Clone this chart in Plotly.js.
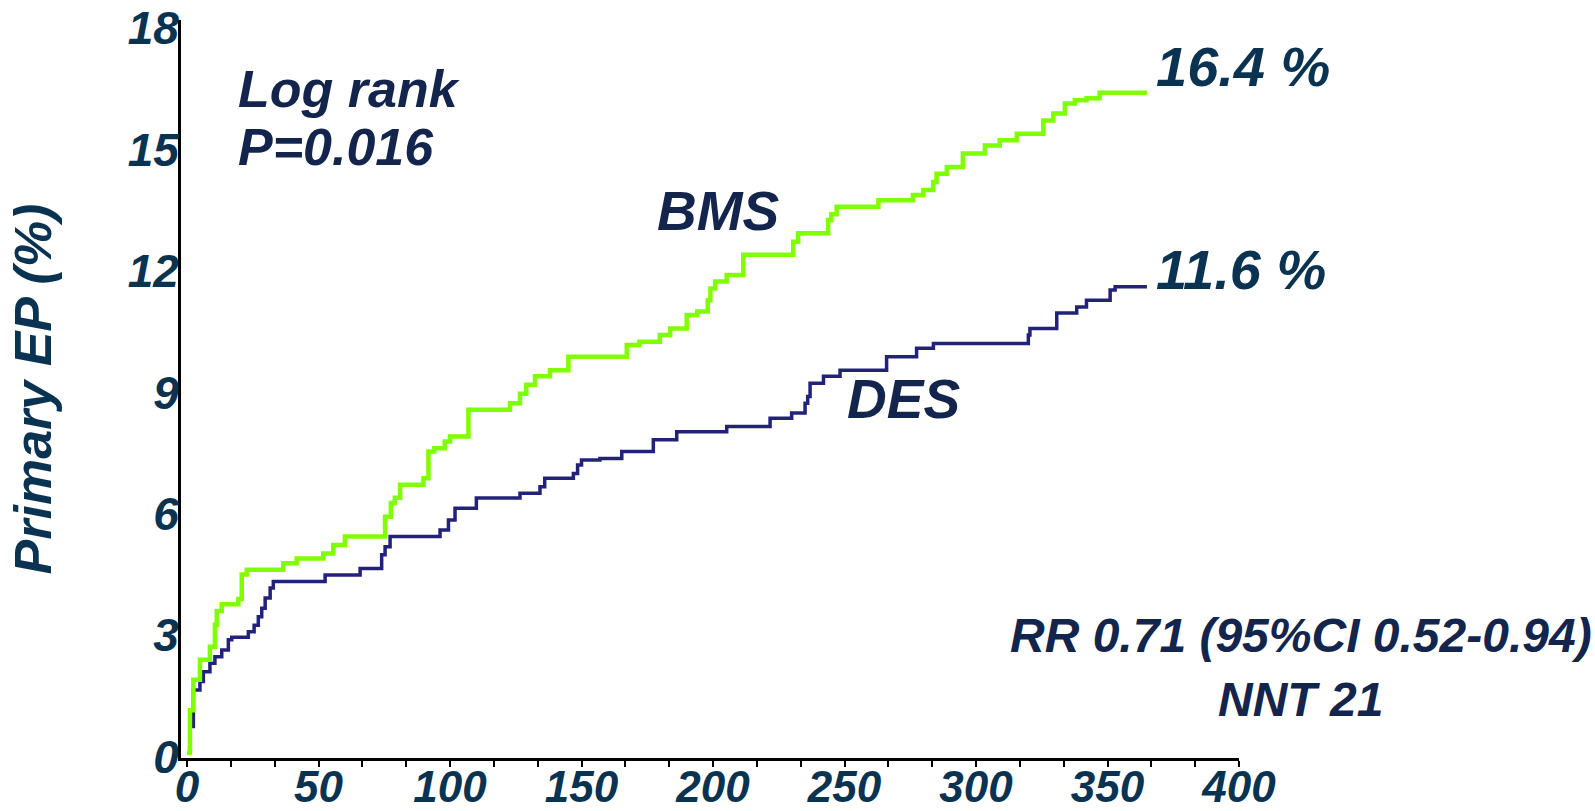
<!DOCTYPE html>
<html>
<head>
<meta charset="utf-8">
<script src="https://cdn.plot.ly/plotly-3.0.1.min.js"></script>
<style>
html,body{margin:0;padding:0;background:#fff;}
#chart{width:1595px;height:811px;}
</style>
</head>
<body>
<div id="chart"></div>
<script>
// Days of follow-up and cumulative primary end point (%) - BMS arm
const bmsDays = [0, 1.1, 2.4, 4.9, 8.7, 10.6, 11.3, 13.2, 19.5, 20.8, 22.7, 36.6, 41.7, 51.8, 55.6, 60,
  75.3, 77.5, 79, 81, 89.9, 91.8, 94, 98, 100, 107, 122.8, 126.6, 129, 132.3, 138, 145,
  167.2, 172, 179.8, 183.7, 190, 194, 198, 199, 200.8, 205.2, 211.5, 230.5, 232.4, 243.8, 245, 247,
  262.9, 276, 280, 283.7, 285, 288.9, 295, 303.4, 309, 315.5, 325.6, 329.4, 333.8, 337.6, 342, 347, 365];
const bmsRate = [0.1, 1.15, 1.9, 2.4, 2.72, 3.26, 3.6, 3.77, 3.9, 4.5, 4.62, 4.78, 4.9, 5.02, 5.23, 5.44,
  5.93, 6.27, 6.4, 6.72, 6.88, 7.54, 7.62, 7.79, 7.91, 8.57, 8.73, 8.97, 9.19, 9.4, 9.55, 9.88,
  10.17, 10.25, 10.42, 10.58, 10.91, 11.0, 11.28, 11.57, 11.74, 11.9, 12.4, 12.72, 12.93, 13.26, 13.4, 13.59,
  13.75, 13.88, 14.0, 14.2, 14.4, 14.57, 14.9, 15.1, 15.23, 15.39, 15.72, 15.89, 16.14, 16.22, 16.27, 16.4, 16.4];

// DES arm
const desDays = [1.8, 2.4, 4.9, 6.2, 8.7, 10.6, 13.2, 15.7, 17, 23.3, 25.5, 27.1, 28.4, 29.7, 31.6, 32.8,
  52.5, 65.8, 74, 75.3, 77.2, 96.2, 99.4, 101.9, 110, 126.6, 134.2, 136, 146.9, 148.5, 150, 157,
  165.3, 177.3, 186.2, 205.2, 221.7, 229.9, 235, 236, 236.9, 242, 248.3, 266, 277.4, 283.8,
  319.9, 320.5, 330.7, 338.3, 342, 351, 352.9, 365];
const desRate = [0.75, 1.65, 1.86, 2.1, 2.31, 2.47, 2.64, 2.89, 2.95, 3.09, 3.25, 3.46, 3.67, 3.92, 4.17, 4.33,
  4.49, 4.65, 4.99, 5.19, 5.44, 5.6, 5.85, 6.14, 6.39, 6.51, 6.67, 6.88, 7.0, 7.21, 7.33, 7.37,
  7.54, 7.83, 8.03, 8.16, 8.36, 8.49, 8.73, 8.9, 9.23, 9.4, 9.55, 9.88, 10.09, 10.21,
  10.42, 10.58, 10.96, 11.11, 11.28, 11.53, 11.61, 11.61];

const xTickVals = [0, 50, 100, 150, 200, 250, 300, 350, 400];
const xTickText = ['0', '50', '100', '150', '200', '250', '300', '350', '400'];
const yTickVals = [0, 3, 6, 9, 12, 15, 18];
const yTickText = ['0', '3', '6', '9', '12', '15', '18'];

const FONT = '"Liberation Sans", Arial, sans-serif';
const TICKCOL = '#0a3352';
const TXTCOL = '#13244d';

const traces = [
  {x: desDays, y: desRate, type: 'scatter', mode: 'lines', name: 'DES',
   line: {shape: 'hv', color: '#22227a', width: 3.5}, hoverinfo: 'x+y'},
  {x: bmsDays, y: bmsRate, type: 'scatter', mode: 'lines', name: 'BMS',
   line: {shape: 'hv', color: '#7fff00', width: 4.5}, hoverinfo: 'x+y'}
];

function ann(text, x, y, size, xanchor, xref, color) {
  return {text: '<b><i>' + text + '</i></b>', x: x, y: y, xref: xref || 'x', yref: 'y',
    xanchor: xanchor, yanchor: 'middle', showarrow: false,
    font: {family: FONT, size: size, color: color || TXTCOL}};
}

const layout = {
  width: 1595, height: 811,
  margin: {l: 181, r: 356, t: 20, b: 53},
  paper_bgcolor: '#fff', plot_bgcolor: '#fff',
  showlegend: false,
  xaxis: {
    range: [-2.3, 400], tickvals: xTickVals, ticktext: xTickText,
    ticks: 'outside', ticklen: 6, tickwidth: 2, tickcolor: '#000',
    minor: {dtick: 50 / 3, tick0: 0, ticks: 'outside', ticklen: 6, tickwidth: 2, tickcolor: '#000'},
    showline: true, linecolor: '#000', linewidth: 3, showgrid: false, zeroline: false,
    ticklabelstandoff: -18,
    tickfont: {family: FONT, size: 44, color: TICKCOL, weight: 'bold', style: 'italic'},
    fixedrange: true
  },
  yaxis: {
    range: [-0.03, 18.2], tickvals: yTickVals, ticktext: yTickText,
    ticks: '', showline: true, linecolor: '#000', linewidth: 3, showgrid: false, zeroline: false,
    ticklabelstandoff: -10,
    tickfont: {family: FONT, size: 46, color: TICKCOL, weight: 'bold', style: 'italic'},
    title: {text: '<b><i>Primary EP (%)</i></b>', standoff: 60,
            font: {family: FONT, size: 52, color: TICKCOL}},
    fixedrange: true
  },
  annotations: [
    ann('Log rank', 18.6, 16.5, 52, 'left'),
    ann('P=0.016', 18.6, 15.06, 52, 'left'),
    ann('BMS', 202, 13.47, 55, 'center'),
    ann('DES', 272.6, 8.85, 55, 'center'),
    ann('16.4 %', 367.8, 17.06, 56, 'left', 'x', TICKCOL),
    ann('11.6 %', 367.8, 12.03, 56, 'left', 'x', TICKCOL),
    ann('RR 0.71 (95%CI 0.52-0.94)', 1.0586, 2.99, 48, 'center', 'paper'),
    ann('NNT 21', 1.0586, 1.42, 48, 'center', 'paper')
  ]
};

Plotly.newPlot('chart', traces, layout, {displayModeBar: false, staticPlot: true});
</script>
</body>
</html>
